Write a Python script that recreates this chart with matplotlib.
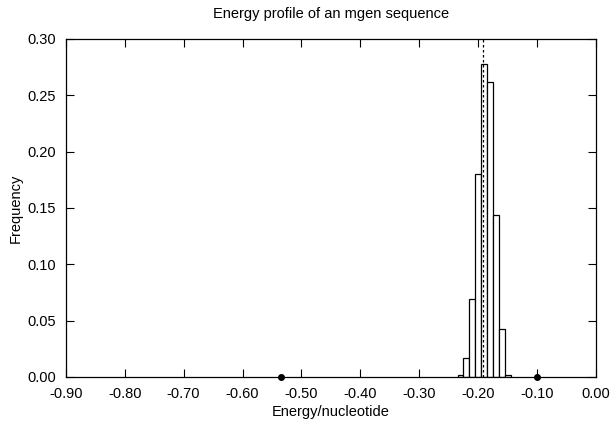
import numpy as np
import matplotlib.pyplot as plt

plt.rcParams['font.family'] = ['Liberation Sans', 'DejaVu Sans']

# histogram of energy per nucleotide
bin_centers = [-0.23, -0.22, -0.21, -0.20, -0.19, -0.18, -0.17, -0.16, -0.15]
frequency = [0.002, 0.017, 0.069, 0.180, 0.278, 0.262, 0.144, 0.043, 0.002]
bin_width = 0.01

# mean energy marker and the two reference points on the axis
mean_energy = -0.192
points_x = [-0.534, -0.10]
points_y = [0.0, 0.0]

x_ticks = [-0.9, -0.8, -0.7, -0.6, -0.5, -0.4, -0.3, -0.2, -0.1, 0.0]
y_ticks = [0.0, 0.05, 0.10, 0.15, 0.20, 0.25, 0.30]

fig = plt.figure(figsize=(6.12, 4.28), dpi=100)
ax = fig.add_axes([0.1074, 0.1192, 0.8666, 0.7897])

ax.bar(bin_centers, frequency, width=bin_width, facecolor='white',
       edgecolor='black', linewidth=0.9, zorder=2)
ax.axvline(mean_energy, color='black', linestyle=(0, (2, 2)), linewidth=0.9, zorder=3)
ax.plot(points_x, points_y, 'o', color='black', markersize=4, clip_on=False, zorder=4)

ax.set_xlim(-0.9, 0.0)
ax.set_ylim(0.0, 0.30)
ax.set_xticks(x_ticks)
ax.set_yticks(y_ticks)
ax.set_xticklabels(['%.2f' % v for v in x_ticks])
ax.set_yticklabels(['%.2f' % v for v in y_ticks])
ax.tick_params(direction='in', top=True, right=True, length=6, width=0.8,
               labelsize=10.5)
ax.tick_params(axis='x', pad=7)
ax.tick_params(axis='y', pad=7)
for s in ax.spines.values():
    s.set_linewidth(0.9)

ax.set_title('Energy profile of an mgen sequence', fontsize=10.5, pad=15)
ax.set_xlabel('Energy/nucleotide', fontsize=10.5, labelpad=3)
ax.set_ylabel('Frequency', fontsize=10.5, labelpad=3)

fig.savefig('out.png', dpi=100)
